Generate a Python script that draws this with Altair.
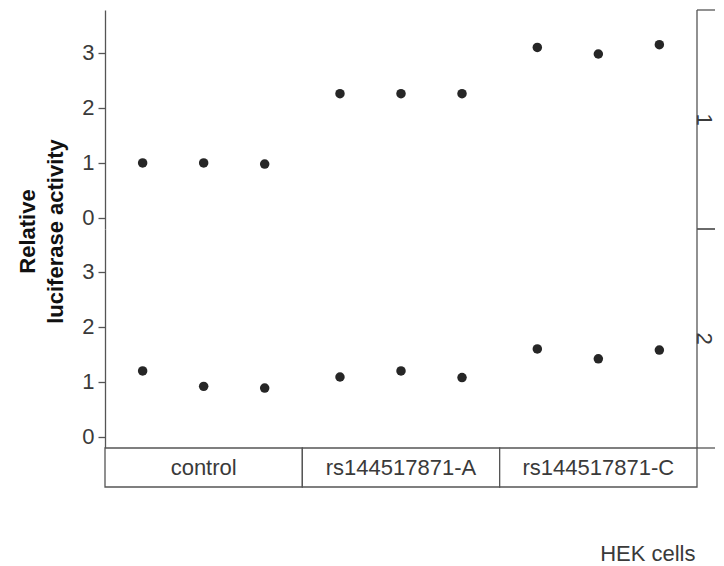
import altair as alt
import pandas as pd

categories = ["control", "rs144517871-A", "rs144517871-C"]
replicates = ["r1", "r2", "r3"]
panel_ids = ["1", "2"]
panel1_values = [1.00, 1.00, 0.98, 2.26, 2.26, 2.26, 3.10, 2.98, 3.15]
panel2_values = [1.20, 0.92, 0.89, 1.09, 1.20, 1.08, 1.60, 1.42, 1.58]
y_ticks = [0, 1, 2, 3]
y_domain = [-0.2, 3.78]
y_title = ["Relative", "luciferase activity"]
x_title = "HEK cells"

rows = []
for pid, vals in zip(panel_ids, [panel1_values, panel2_values]):
    i = 0
    for c in categories:
        for r in replicates:
            rows.append({"panel": pid, "category": c, "rep": r, "value": vals[i]})
            i += 1
df = pd.DataFrame(rows)

FONT = "Liberation Sans"
TXT = "#3a3a3a"
LINE = "#555555"
PT = "#262626"
W, H, SH, RW = 592, 219, 39, 18

xscale = alt.Scale(type="band", domain=categories, paddingInner=0, paddingOuter=0)
yscale = alt.Scale(domain=y_domain, nice=False, zero=False)
band_full = alt.Scale(type="band", paddingInner=0, paddingOuter=0)


def y_axis(with_title):
    kw = dict(values=y_ticks, grid=False, domainColor=LINE, domainWidth=1.3,
              tickColor=LINE, tickWidth=1.3, tickSize=7, labelFont=FONT,
              labelFontSize=22, labelColor=TXT, labelPadding=4, format="d")
    if with_title:
        kw.update(title=y_title, titleFont=FONT, titleFontSize=22,
                  titleFontWeight="bold", titleColor="#111111", titleAngle=270,
                  titleAlign="center", titleBaseline="middle", titleLineHeight=28,
                  titleX=-78, titleY=H + 2)
    return alt.Axis(**kw)


def panel_chart(pid, with_title):
    return alt.Chart(df[df.panel == pid]).mark_circle(size=90, color=PT, opacity=1).encode(
        x=alt.X("category:N", scale=xscale, axis=None),
        xOffset=alt.XOffset("rep:N", scale=alt.Scale(type="point", padding=0.617)),
        y=alt.Y("value:Q", scale=yscale, axis=y_axis(with_title),
                title=y_title if with_title else None),
    ).properties(width=W, height=H)


def right_strip(pid):
    d = pd.DataFrame({"panel": [pid]})
    base = alt.Chart(d)
    top = base.mark_rule(color=LINE, strokeWidth=1.3).encode(
        x=alt.value(0), x2=alt.value(RW), y=alt.value(0))
    bot = base.mark_rule(color=LINE, strokeWidth=1.3).encode(
        x=alt.value(0), x2=alt.value(RW), y=alt.value(H))
    left = base.mark_rule(color=LINE, strokeWidth=1.3).encode(
        x=alt.value(0), y=alt.value(0), y2=alt.value(H))
    txt = base.mark_text(font=FONT, fontSize=22, color=TXT, angle=90).encode(
        text="panel:N", x=alt.value(RW - 11),
        y=alt.Y("panel:N", axis=None, scale=band_full))
    return alt.layer(top, bot, left, txt).properties(width=RW, height=H)


idx = list(range(len(categories)))
strip_df = pd.DataFrame({
    "category": categories,
    "mid": idx,
    "lo": [i - 0.5 for i in idx],
    "hi": [i + 0.5 for i in idx],
    "strip": ["x"] * len(categories),
})
sx = alt.Scale(domain=[-0.5, len(categories) - 0.5], nice=False, zero=False)
sy = alt.Y("strip:N", axis=None, scale=band_full)
box = alt.Chart(strip_df).mark_rect(fill="white", stroke=LINE, strokeWidth=1.3).encode(
    x=alt.X("lo:Q", scale=sx,
            axis=alt.Axis(labels=False, ticks=False, domain=False, grid=False,
                          title=x_title, titleFont=FONT, titleFontSize=22,
                          titleFontWeight="normal", titleColor=TXT,
                          titleAnchor="end", titleAlign="right",
                          titleX=W - 2, titleY=66, titleBaseline="middle")),
    x2="hi:Q",
    y=sy,
)
lab = alt.Chart(strip_df).mark_text(font=FONT, fontSize=22, color=TXT).encode(
    x=alt.X("mid:Q", scale=sx), text="category:N", y=sy)
xstrip = alt.layer(box, lab).properties(width=W, height=SH)

chart = alt.concat(
    panel_chart("1", True), right_strip("1"),
    panel_chart("2", False), right_strip("2"),
    xstrip,
    columns=2, spacing=0, bounds="flush", align="each",
).properties(
    padding={"left": 8, "top": 1, "right": 0, "bottom": 0},
    background="white",
).configure_view(strokeWidth=0)

chart.save("out.html", embed_options={"renderer": "svg", "actions": False})
